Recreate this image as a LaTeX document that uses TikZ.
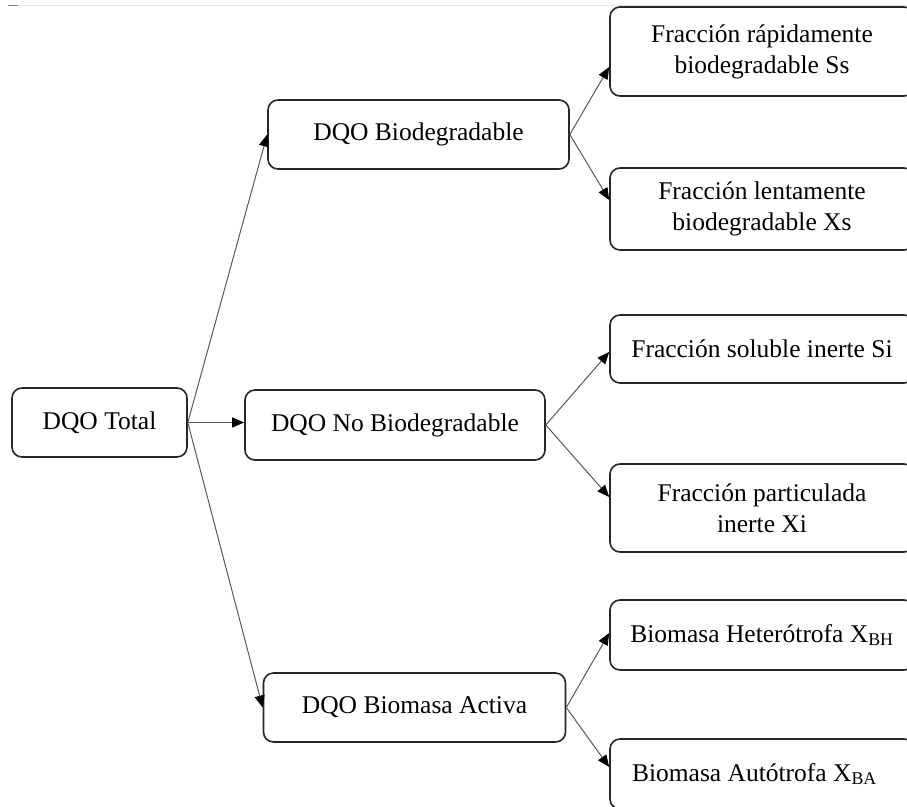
\documentclass[tikz,border=0pt]{standalone}
\usepackage{fontspec}
\setmainfont{Liberation Serif}
\usetikzlibrary{arrows.meta,calc}

\begin{document}
\begin{tikzpicture}[
    x=1pt, y=-1pt,
    font=\fontsize{25.5}{31}\selectfont,
    dqobox/.style={rectangle, draw=black!85, line width=1.6pt, fill=white, rounded corners=10pt, text centered, minimum width=301pt, minimum height=69pt, inner sep=0pt},
    fracbox/.style={rectangle, draw=black!85, line width=1.6pt, fill=white, rounded corners=10pt, align=center, minimum width=304pt, inner sep=0pt},
    arrow/.style={draw=black!65, line width=1pt, -{Triangle[length=12pt,width=10pt,color=black]}}
]

% Page frame
\useasboundingbox (0,0) rectangle (907,806);
\clip (0,0) rectangle (907,806);

% Faint rule at the top
\draw[black!10, line width=1pt] (8,5) -- (907,5);
\draw[black!50, line width=1pt] (8,5) -- (18,5);

% Root
\node[dqobox, minimum width=175pt] (total) at (99.5,422.5) {DQO Total};

% COD groups
\node[dqobox] (bio) at (418.5,134.5) {DQO Biodegradable};
\node[dqobox, minimum width=300pt, minimum height=70pt] (nobio) at (395,425) {DQO No Biodegradable};
\node[dqobox, minimum width=302pt] (biom) at (414.5,707.5) {DQO Biomasa Activa};

% Fractions
\node[fracbox, minimum height=89pt] (ss) at (762,51.5) {Fracción rápidamente\\biodegradable Ss};
\node[fracbox, minimum height=82pt] (xs) at (762,209) {Fracción lentamente\\biodegradable Xs};
\node[fracbox, minimum height=68pt] (si) at (762,349) {Fracción soluble inerte Si};
\node[fracbox, minimum height=88pt] (xi) at (762,508) {Fracción particulada\\inerte Xi};
\node[fracbox, minimum height=70pt] (xbh) at (762,635) {Biomasa Heterótrofa X\textsubscript{BH}};
\node[fracbox, minimum height=70pt, align=flush left, text width=260pt, inner xsep=22pt] (xba) at (762,774) {Biomasa Autótrofa X\textsubscript{BA}};

% Root to groups
\draw[arrow] (total.east) -- (bio.west);
\draw[arrow] (total.east) -- (total.east -| nobio.west);
\draw[arrow] (total.east) -- (biom.west);

% Groups to fractions
\draw[arrow] (bio.east) -- ($(ss.west)+(0,15.5)$);
\draw[arrow] (bio.east) -- ($(xs.west)+(0,-9)$);
\draw[arrow] (nobio.east) -- ($(si.west)+(0,3)$);
\draw[arrow] (nobio.east) -- ($(xi.west)+(0,-11)$);
\draw[arrow] (biom.east) -- ($(xbh.west)+(0,-2)$);
\draw[arrow] (biom.east) -- ($(xba.west)+(0,-7)$);

\end{tikzpicture}
\end{document}
